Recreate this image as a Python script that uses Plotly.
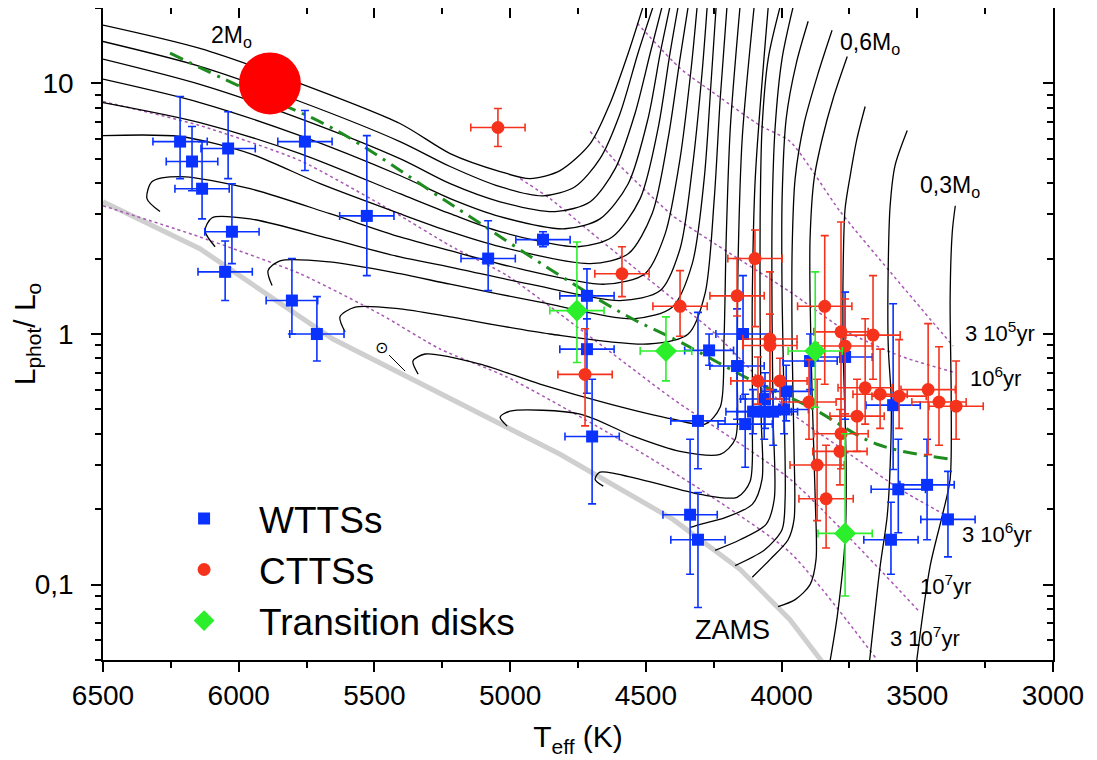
import math
import plotly.graph_objects as go

FONT = "Liberation Sans, Arial, sans-serif"

# ---------------- evolutionary tracks (Teff [K], L/Lsun) ----------------
TRK_A_T = [6500, 6143, 5774, 5406, 5221, 5037, 4927, 4816, 4705, 4632, 4565, 4510]
TRK_A_L = [17.1, 13.8, 10.0, 6.92, 5.25, 4.45, 4.17, 4.49, 5.75, 8.32, 13.2, 20.3]
TRK_B_T = [6500, 6143, 5774, 5406, 5221, 5037, 4879, 4761, 4669, 4595, 4529, 4473]
TRK_B_L = [14.7, 11.7, 8.47, 5.86, 4.66, 3.87, 3.56, 3.87, 5.01, 7.59, 13.2, 20.3]
TRK_C_T = [6500, 6143, 5774, 5406, 5221, 5037, 4834, 4705, 4613, 4540, 4484, 4440]
TRK_C_L = [12.5, 9.91, 7.24, 5.01, 3.98, 3.37, 3.08, 3.37, 4.57, 7.59, 13.2, 20.3]
TRK_D_T = [6500, 6143, 5774, 5406, 5221, 5037, 4798, 4669, 4565, 4492, 4447, 4411]
TRK_D_L = [10.4, 8.39, 6.19, 4.29, 3.47, 2.94, 2.63, 2.88, 3.98, 7.24, 13.2, 20.3]
TRK_E_T = [6500, 6143, 5774, 5406, 5221, 5037, 4750, 4624, 4521, 4455, 4411, 4381]
TRK_E_L = [8.39, 6.98, 5.25, 3.63, 3.02, 2.56, 2.23, 2.44, 3.47, 6.61, 13.2, 20.3]
TRK_F_T = [6500, 6216, 5958, 5700, 5406, 5221, 5037, 4705, 4565, 4477, 4418, 4374, 4344]
TRK_F_L = [6.19, 6.14, 5.25, 3.98, 3.02, 2.56, 2.23, 1.91, 2.09, 3.02, 6.03, 12.6, 20.3]
TRK_H1_T = [6290, 6338, 6319, 6216, 5958, 5664, 5406, 5221, 4963, 4650, 4503, 4429, 4374, 4333, 4311]
TRK_H1_L = [3.08, 3.47, 4.06, 4.25, 3.80, 3.02, 2.44, 2.15, 1.82, 1.58, 1.74, 2.51, 5.01, 11.5, 20.3]
TRK_H2_T = [6087, 6124, 6098, 5958, 5664, 5406, 5221, 4927, 4595, 4447, 4374, 4329, 4293, 4274]
TRK_H2_L = [2.23, 2.58, 2.91, 2.88, 2.40, 2.03, 1.85, 1.58, 1.36, 1.49, 2.19, 4.57, 11.0, 20.3]
TRK_H3_T = [5877, 5892, 5848, 5664, 5406, 5221, 4890, 4547, 4403, 4329, 4285, 4260, 4241]
TRK_H3_L = [1.56, 1.79, 1.96, 1.94, 1.74, 1.58, 1.34, 1.15, 1.28, 1.91, 4.17, 10.0, 20.3]
TRK_H4_T = [5608, 5627, 5571, 5406, 5221, 4853, 4492, 4344, 4282, 4248, 4226, 4201]
TRK_H4_L = [1.02, 1.17, 1.28, 1.26, 1.17, 1.00, 0.912, 1.00, 1.45, 3.47, 8.71, 20.3]
TRK_H5_T = [5339, 5358, 5313, 5111, 4890, 4632, 4400, 4282, 4226, 4212, 4204, 4189, 4153]
TRK_H5_L = [0.692, 0.780, 0.832, 0.759, 0.631, 0.525, 0.457, 0.437, 0.511, 0.955, 2.40, 6.61, 20.3]
TRK_H6_T = [5011, 5037, 5000, 4742, 4547, 4374, 4226, 4171, 4164, 4160, 4145, 4101]
TRK_H6_L = [0.429, 0.466, 0.492, 0.479, 0.391, 0.340, 0.331, 0.380, 0.724, 2.00, 6.03, 20.3]
TRK_H7_T = [4657, 4687, 4669, 4521, 4300, 4164, 4116, 4108, 4108, 4097, 4049]
TRK_H7_L = [0.247, 0.263, 0.281, 0.263, 0.229, 0.223, 0.258, 0.457, 1.38, 4.17, 20.3]
TRK_K1_T = [4337, 4300, 4208, 4108, 4072, 4075, 4079, 4079, 4072, 4049, 4005]
TRK_K1_L = [0.169, 0.174, 0.185, 0.209, 0.263, 0.457, 1.15, 2.88, 6.61, 12.6, 20.3]
TRK_K2_T = [4245, 4153, 4057, 4027, 4031, 4035, 4035, 4024, 3998, 3957]
TRK_K2_L = [0.137, 0.151, 0.174, 0.219, 0.457, 1.15, 2.88, 6.61, 12.6, 20.3]
TRK_K3_T = [4171, 4061, 3998, 3987, 3991, 3998, 3998, 3983, 3946, 3902]
TRK_K3_L = [0.119, 0.138, 0.166, 0.219, 0.550, 1.38, 3.47, 7.24, 12.0, 17.7]
TRK_K4_T = [4108, 4042, 3976, 3954, 3954, 3961, 3961, 3950, 3917, 3865, 3814]
TRK_K4_L = [0.107, 0.126, 0.151, 0.182, 0.347, 0.871, 2.19, 4.17, 6.92, 11.0, 16.3]
TRK_M06_T = [4013, 3950, 3895, 3873, 3876, 3887, 3895, 3895, 3880, 3850, 3810, 3758]
TRK_M06_L = [0.0817, 0.0871, 0.100, 0.126, 0.219, 0.550, 1.38, 2.40, 4.17, 6.03, 8.71, 12.8]
TRK_M05_T = [3692, 3722, 3747, 3766, 3773, 3773, 3762, 3766, 3795, 3825]
TRK_M05_L = [8.09, 6.03, 4.29, 3.16, 1.87, 0.871, 0.296, 0.151, 0.0745, 0.047]
TRK_M04_T = [3537, 3582, 3600, 3607, 3607, 3596, 3600, 3611, 3637, 3678]
TRK_M04_L = [6.49, 4.70, 3.25, 1.87, 0.895, 0.550, 0.296, 0.187, 0.118, 0.047]
TRK_M03_T = [3360, 3371, 3379, 3375, 3379, 3405, 3453, 3505]
TRK_M03_L = [3.25, 2.56, 1.38, 0.550, 0.263, 0.194, 0.118, 0.047]

TRACKS = [
    (TRK_A_T, TRK_A_L), (TRK_B_T, TRK_B_L), (TRK_C_T, TRK_C_L), (TRK_D_T, TRK_D_L),
    (TRK_E_T, TRK_E_L), (TRK_F_T, TRK_F_L), (TRK_H1_T, TRK_H1_L), (TRK_H2_T, TRK_H2_L),
    (TRK_H3_T, TRK_H3_L), (TRK_H4_T, TRK_H4_L), (TRK_H5_T, TRK_H5_L), (TRK_H6_T, TRK_H6_L),
    (TRK_H7_T, TRK_H7_L), (TRK_K1_T, TRK_K1_L), (TRK_K2_T, TRK_K2_L), (TRK_K3_T, TRK_K3_L),
    (TRK_K4_T, TRK_K4_L), (TRK_M06_T, TRK_M06_L), (TRK_M05_T, TRK_M05_L),
    (TRK_M04_T, TRK_M04_L), (TRK_M03_T, TRK_M03_L),
]

# ---------------- ZAMS ----------------
ZAMS_T = [6500, 6143, 5653, 5221, 4816, 4400, 4153, 3969, 3830]
ZAMS_L = [3.37, 2.19, 0.955, 0.550, 0.331, 0.182, 0.115, 0.0724, 0.046]

# ---------------- isochrones ----------------
ISO_3E5_T = [4532, 4374, 4237, 4079, 3968, 3784, 3600, 3368]
ISO_3E5_L = [17.4, 11.5, 8.95, 6.79, 5.86, 3.08, 1.77, 0.895]
ISO_1E6_T = [4705, 4621, 4521, 4400, 4274, 3968, 3758, 3563, 3368]
ISO_1E6_L = [6.43, 5.01, 3.91, 2.96, 2.40, 1.47, 1.02, 0.817, 0.705]
ISO_3E6_T = [4963, 4853, 4705, 4569, 4400, 4252, 4116, 3968, 3748, 3563, 3368]
ISO_3E6_L = [4.17, 3.47, 2.56, 1.94, 1.38, 1.02, 0.724, 0.488, 0.331, 0.240, 0.182]
ISO_1E7_T = [6500, 6143, 5774, 5431, 5221, 5011, 4694, 4400, 3968, 3489]
ISO_1E7_L = [8.47, 6.79, 4.92, 3.08, 2.25, 1.71, 0.955, 0.550, 0.263, 0.0773]
ISO_3E7_T = [6500, 6143, 5774, 5479, 5258, 5011, 4643, 4300, 3968, 3648]
ISO_3E7_L = [3.25, 2.44, 1.74, 1.20, 0.871, 0.673, 0.406, 0.240, 0.134, 0.0501]
ISOCHRONES = [(ISO_3E5_T, ISO_3E5_L), (ISO_1E6_T, ISO_1E6_L), (ISO_3E6_T, ISO_3E6_L),
              (ISO_1E7_T, ISO_1E7_L), (ISO_3E7_T, ISO_3E7_L)]

# ---------------- green dash-dot line ----------------
GREEN_T = [6253, 5995, 5653, 5232, 4816, 4569, 4374, 4105, 3895, 3648, 3368]
GREEN_L = [13.2, 9.72, 6.61, 3.37, 1.71, 1.18, 0.929, 0.649, 0.511, 0.363, 0.316]

# ---------------- WTTSs ----------------
WTTS_T = [6216, 6172, 6039, 6135, 6025, 6050, 5756, 5528, 5804, 5712, 5081, 4879, 4717, 4717,
          4698, 4308, 4337, 4308, 4267, 4164, 4142, 4105, 4064, 4031, 3991, 4134, 4061, 3983,
          3895, 3766, 3589, 3570, 3464, 3387, 3597]
WTTS_L = [5.86, 4.88, 5.50, 3.80, 2.56, 1.77, 5.86, 2.96, 1.36, 1.00, 2.00, 2.38, 1.42, 0.87,
          0.39, 0.45, 0.19, 0.151, 0.86, 0.745, 1.00, 0.49, 0.49, 0.49, 0.50, 0.437, 0.55, 0.59,
          0.78, 0.81, 0.52, 0.24, 0.25, 0.182, 0.151]
WTTS_L_HI = [8.87, 6.73, 7.71, 5.86, 3.98, 2.35, 7.80, 6.19, 2.00, 1.41, 2.83, 2.56, 1.82, 1.15,
             0.66, 1.22, 0.38, 0.233, 1.00, 1.26, 1.71, 0.60, 0.62, 0.60, 0.65, 0.575, 0.70, 0.75,
             1.00, 1.47, 1.32, 0.38, 0.38, 0.283, 0.213]
WTTS_L_LO = [4.17, 3.73, 4.17, 2.88, 1.91, 1.36, 4.49, 1.71, 1.00, 0.78, 1.49, 2.23, 1.15, 0.58,
             0.21, 0.29, 0.11, 0.081, 0.75, 0.457, 0.55, 0.40, 0.38, 0.36, 0.40, 0.294, 0.42, 0.45,
             0.60, 0.457, 0.288, 0.161, 0.151, 0.129, 0.11]
WTTS_T_ERR = [100, 95, 100, 100, 100, 100, 100, 100, 95, 100, 100, 100, 100, 100,
              100, 100, 100, 100, 90, 100, 100, 100, 100, 90, 90, 100, 90, 90,
              100, 100, 100, 100, 100, 100, 100]

# ---------------- CTTSs ----------------
CTTS_T = [5045, 4588, 4374, 4724, 4098, 4164, 3841, 3781, 3663, 3766, 4043, 4043, 4087, 4006,
          3899, 3692, 3637, 3567, 3460, 3420, 3357, 3722, 3781, 3785, 3869, 3836, 5885]
CTTS_L = [6.67, 1.74, 1.29, 0.69, 2.00, 1.42, 1.29, 1.02, 0.99, 0.895, 0.955, 0.90, 0.65, 0.65,
          0.535, 0.61, 0.575, 0.565, 0.60, 0.535, 0.515, 0.47, 0.40, 0.34, 0.30, 0.22, 9.4]
CTTS_L_HI = [7.94, 2.23, 1.79, 1.05, 2.60, 2.00, 2.47, 2.80, 1.71, 1.38, 1.77, 1.20, 0.81, 0.80,
             0.79, 1.15, 0.87, 0.95, 1.10, 0.89, 0.78, 0.66, 0.55, 0.50, 0.66, 0.36, 10.9]
CTTS_L_LO = [5.60, 1.41, 0.98, 0.43, 1.07, 1.18, 0.63, 0.55, 0.66, 0.48, 0.55, 0.60, 0.525, 0.55,
             0.38, 0.437, 0.42, 0.42, 0.33, 0.36, 0.38, 0.34, 0.29, 0.25, 0.18, 0.14, 7.94]
CTTS_T_ERR = [100] * 27

# ---------------- Transition disks ----------------
TD_T = [4754, 4426, 3876, 3766]
TD_L = [1.24, 0.855, 0.855, 0.16]
TD_L_HI = [2.33, 1.17, 1.77, 0.40]
TD_L_LO = [0.77, 0.65, 0.51, 0.09]
TD_T_ERR = [100, 95, 100, 100]

# ---------------- highlighted star ----------------
BIG_T = [5885]
BIG_L = [10.0]

# ---------------- labels ----------------
LABEL_TEXT = ["2M<sub>o</sub>", "0,6M<sub>o</sub>", "0,3M<sub>o</sub>", "3 10<sup>5</sup>yr",
              "10<sup>6</sup>yr", "3 10<sup>6</sup>yr", "10<sup>7</sup>yr", "3 10<sup>7</sup>yr", "ZAMS"]
LABEL_T = [6025, 3674, 3379, 3195, 3213, 3206, 3397, 3471, 4179]
LABEL_L = [15.4, 14.5, 3.87, 1.02, 0.673, 0.161, 0.10, 0.062, 0.066]
LABEL_SIZE = [23, 23, 23, 22, 22, 22, 22, 22, 27]

X_TICKS = [6500, 6000, 5500, 5000, 4500, 4000, 3500, 3000]
X_MINOR = [6250, 5750, 5250, 4750, 4250, 3750, 3250]
Y_TICKS = [0.1, 1, 10]
Y_TICKTEXT = ["0,1", "1", "10"]
Y_MINOR = [0.05, 0.06, 0.07, 0.08, 0.09, 0.2, 0.3, 0.4, 0.5, 0.6, 0.7, 0.8, 0.9,
           2, 3, 4, 5, 6, 7, 8, 9, 20]

BLUE = "#0a32ff"
RED = "#f5331d"
GREEN = "#2bef2b"

fig = go.Figure()

fig.add_trace(go.Scatter(x=ZAMS_T, y=ZAMS_L, mode="lines", line=dict(color="#cfcfcf", width=5),
                         showlegend=False, hoverinfo="skip"))
for tt, ll in ISOCHRONES:
    fig.add_trace(go.Scatter(x=tt, y=ll, mode="lines", line=dict(color="#a858b4", width=1.5, dash="dot",
                                                                  shape="spline", smoothing=0.6),
                             showlegend=False, hoverinfo="skip"))
for tt, ll in TRACKS:
    fig.add_trace(go.Scatter(x=tt, y=ll, mode="lines", line=dict(color="black", width=1.3,
                                                                  shape="spline", smoothing=0.8),
                             showlegend=False, hoverinfo="skip"))
fig.add_trace(go.Scatter(x=GREEN_T, y=GREEN_L, mode="lines",
                         line=dict(color="#1f8c1f", width=3, dash="14px,7px,3px,7px", shape="spline"),
                         showlegend=False, hoverinfo="skip"))


def err(vals, hi, lo):
    return [h - v for v, h in zip(vals, hi)], [v - l for v, l in zip(vals, lo)]


def add_group(name, tt, ll, hi, lo, terr, color, symbol, size, rank):
    plus, minus = err(ll, hi, lo)
    fig.add_trace(go.Scatter(
        x=tt, y=ll, mode="markers", name=name, legendrank=rank,
        marker=dict(color=color, symbol=symbol, size=size, line=dict(width=0)),
        error_y=dict(type="data", symmetric=False, array=plus, arrayminus=minus,
                     color=color, thickness=1.6, width=4),
        error_x=dict(type="data", array=terr, color=color, thickness=1.6, width=4),
    ))


add_group("WTTSs", WTTS_T, WTTS_L, WTTS_L_HI, WTTS_L_LO, WTTS_T_ERR, BLUE, "square", 12, 1)
add_group("CTTSs", CTTS_T, CTTS_L, CTTS_L_HI, CTTS_L_LO, CTTS_T_ERR, RED, "circle", 13, 2)
add_group("Transition disks", TD_T, TD_L, TD_L_HI, TD_L_LO, TD_T_ERR, GREEN, "diamond", 17, 3)

fig.add_trace(go.Scatter(x=BIG_T, y=BIG_L, mode="markers", marker=dict(color="#ff0000", size=62),
                         showlegend=False, hoverinfo="skip"))
fig.add_trace(go.Scatter(x=[], y=[], xaxis="x2", yaxis="y2", showlegend=False, hoverinfo="skip"))

for txt, tx, ly, sz in zip(LABEL_TEXT, LABEL_T, LABEL_L, LABEL_SIZE):
    fig.add_annotation(x=tx, y=math.log10(ly), text=txt, showarrow=False,
                       font=dict(family=FONT, size=sz, color="black"))
fig.add_annotation(x=5387, y=math.log10(0.711), text="⊙", showarrow=True, arrowhead=0, arrowwidth=1,
                   arrowcolor="black", ax=-24, ay=-24, font=dict(family="DejaVu Sans", size=16, color="black"))

# The page body adds an 8 px offset; the figure is sized so that the plot area lands
# at the reference position inside the 1097x760 window.
axis_common = dict(showgrid=False, zeroline=False, color="black", automargin=False)
fig.update_layout(
    width=1089, height=752,
    margin=dict(l=95, r=44, t=0, b=100),
    paper_bgcolor="white", plot_bgcolor="white",
    font=dict(family=FONT, color="black"),
    xaxis=dict(range=[6500, 3000], tickmode="array", tickvals=X_TICKS, ticks="outside", ticklen=10,
               tickwidth=1.5, showline=True, linewidth=1.5, linecolor="black", mirror=True,
               tickfont=dict(size=28), ticklabelstandoff=0,
               minor=dict(tickmode="array", tickvals=X_MINOR, ticks="outside", ticklen=6, tickwidth=1.5,
                          tickcolor="black"),
               title=dict(text="T<sub>eff</sub> (K)", font=dict(size=30), standoff=16), **axis_common),
    xaxis2=dict(range=[6500, 3000], overlaying="x", side="top", anchor="y", tickmode="array",
                tickvals=X_TICKS, ticks="inside", ticklen=10, tickwidth=1.5, showticklabels=False,
                showline=False,
                minor=dict(tickmode="array", tickvals=X_MINOR, ticks="inside", ticklen=6, tickwidth=1.5,
                           tickcolor="black"), **axis_common),
    yaxis=dict(type="log", range=[math.log10(0.05), math.log10(20)], tickmode="array", tickvals=Y_TICKS,
               ticktext=Y_TICKTEXT, ticks="outside", ticklen=10, tickwidth=1.5, showline=True,
               linewidth=1.5, linecolor="black", mirror=True, tickfont=dict(size=28), ticklabelstandoff=12,
               minor=dict(tickmode="array", tickvals=Y_MINOR, ticks="outside", ticklen=6, tickwidth=1.5,
                          tickcolor="black"),
               title=dict(text="L<sub>phot</sub>/ L<sub>o</sub>", font=dict(size=30), standoff=0),
               **axis_common),
    yaxis2=dict(type="log", range=[math.log10(0.05), math.log10(20)], overlaying="y", side="right",
                anchor="x", tickmode="array", tickvals=Y_TICKS, ticks="inside", ticklen=10, tickwidth=1.5,
                showticklabels=False, showline=False,
                minor=dict(tickmode="array", tickvals=Y_MINOR, ticks="inside", ticklen=6, tickwidth=1.5,
                           tickcolor="black"), **axis_common),
    legend=dict(x=0.0485, y=0.264, xanchor="left", yanchor="top", bgcolor="rgba(0,0,0,0)",
                font=dict(size=37, family=FONT), traceorder="normal", itemwidth=100),
)

fig.write_html("out.html")
